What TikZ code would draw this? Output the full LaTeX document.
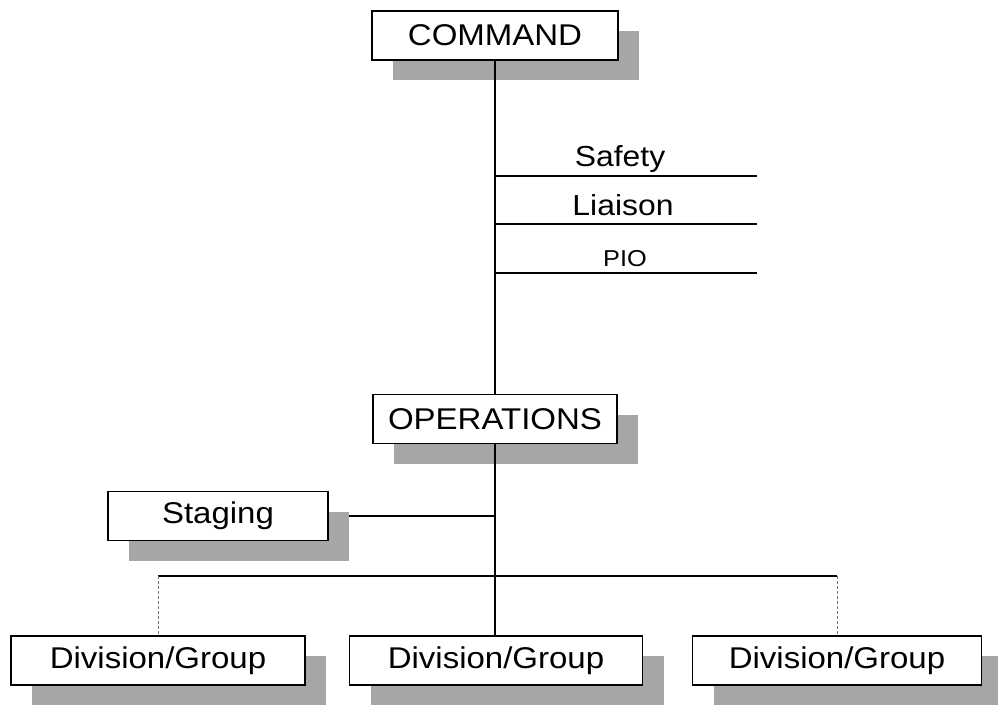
\documentclass[tikz,border=0pt]{standalone}
\usepackage{fontspec}
\setmainfont{Liberation Sans}[FakeStretch=1.1]
\usetikzlibrary{shadows}
\pgfdeclarelayer{bg}
\pgfsetlayers{bg,main}
\begin{document}
\begin{tikzpicture}[x=1pt,y=-1pt,
  box/.style={draw, line width=1.6pt, fill=white, minimum height=49pt, inner sep=0pt,
    font=\fontsize{30}{36}\selectfont,
    drop shadow={shadow xshift=21pt, shadow yshift=-20pt, fill=black!35, opacity=1}},
  link/.style={line width=1.1pt},
  staff/.style={line width=1.5pt},
  stafflabel/.style={anchor=base, inner sep=0pt, font=\fontsize{29}{34}\selectfont},
  faint/.style={line width=0.8pt, black!55, densely dashed}]
\useasboundingbox (0,0) rectangle (998,706);

% boxes
\node[box, minimum width=246pt] (cmd) at (495,35.5) {COMMAND};
\node[box, minimum width=244pt] (ops) at (495,419) {OPERATIONS};
\node[box, minimum width=220pt] (stg) at (218,516) {Staging};
\node[box, minimum width=294pt] (d1) at (158,660.5) {Division/Group};
\node[box, minimum width=293pt] (d2) at (496,660.5) {Division/Group};
\node[box, minimum width=289pt] (d3) at (837,660.5) {Division/Group};

% command staff
\draw[link] (cmd.south) -- (cmd.south |- ops.north);
\coordinate (safetyEnd) at (757,176);
\coordinate (liaisonEnd) at (757,224);
\coordinate (pioEnd) at (757,273);
\draw[staff] (cmd.south |- safetyEnd) -- (safetyEnd);
\draw[staff] (cmd.south |- liaisonEnd) -- (liaisonEnd);
\draw[staff] (cmd.south |- pioEnd) -- (pioEnd);
\node[stafflabel] (safety) at (620,166) {Safety};
\node[stafflabel] (liaison) at (623,215) {Liaison};
\node[stafflabel, font=\fontsize{23}{28}\selectfont] (pio) at (625,266) {PIO};

% operations
\begin{pgfonlayer}{bg}
\draw[link] (stg.east) -- (stg.east -| ops.south);
\end{pgfonlayer}
\coordinate (bus) at (495,576);
\draw[link] (ops.south) -- (ops.south |- d2.north);
\draw[staff] (d1.north |- bus) -- (d3.north |- bus);
\draw[faint] (d1.north |- bus) -- (d1.north);
\draw[faint] (d3.north |- bus) -- (d3.north);
\end{tikzpicture}
\end{document}
